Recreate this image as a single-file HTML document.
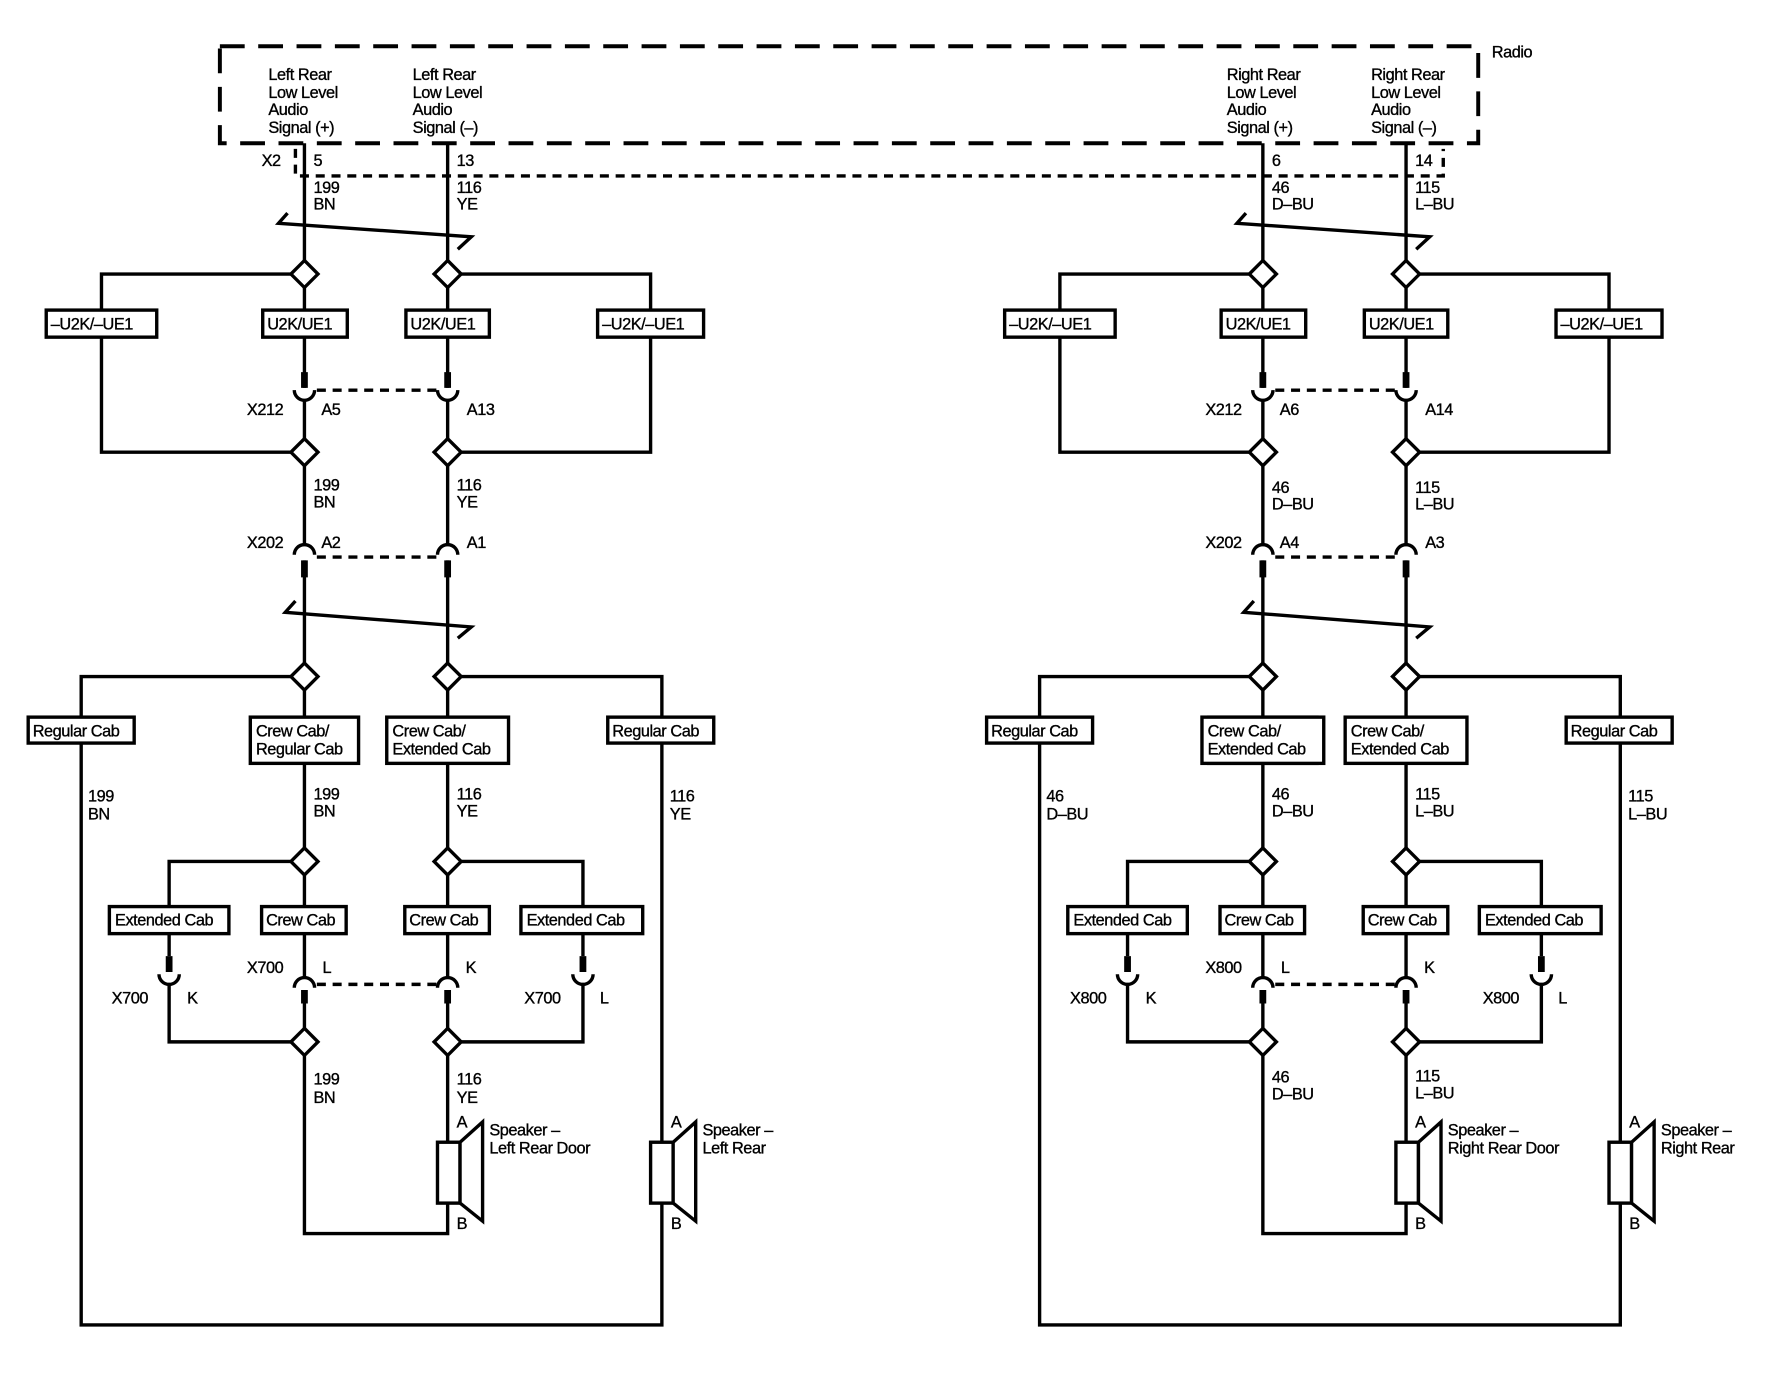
<!DOCTYPE html>
<html><head><meta charset="utf-8"><style>
html,body{margin:0;padding:0;background:#fff;}
svg{display:block;}
text{font-family:"Liberation Sans",sans-serif;font-size:14.5px;fill:#000;stroke:#000;stroke-width:0.3;letter-spacing:-0.4px;}
.w{fill:none;stroke:#000;stroke-width:3;}
.d{fill:none;stroke:#000;stroke-width:3;stroke-dasharray:8 6;}
.s{fill:none;stroke:#000;stroke-width:6;}
.b{fill:#fff;stroke:#000;stroke-width:3;}
</style></head><body>
<svg width="1768" height="1392" viewBox="0 0 1568 1234.5" xmlns="http://www.w3.org/2000/svg">
<rect x="195" y="41" width="1116" height="86" fill="none" stroke="#000" stroke-width="3.5" stroke-dasharray="22 12"/>
<text x="1323" y="51">Radio</text>
<path class="d" d="M262,132 V156 H1280 V132"/>
<text x="238" y="71">Left Rear</text><text x="238" y="87">Low Level</text><text x="238" y="102">Audio</text><text x="238" y="118">Signal (+)</text>
<text x="366" y="71">Left Rear</text><text x="366" y="87">Low Level</text><text x="366" y="102">Audio</text><text x="366" y="118">Signal (–)</text>
<text x="1088" y="71">Right Rear</text><text x="1088" y="87">Low Level</text><text x="1088" y="102">Audio</text><text x="1088" y="118">Signal (+)</text>
<text x="1216" y="71">Right Rear</text><text x="1216" y="87">Low Level</text><text x="1216" y="102">Audio</text><text x="1216" y="118">Signal (–)</text>
<text x="232" y="147">X2</text>

<g id="L">
<path class="w" d="M270,127 V231 M270,255 V275 M270,299 V344 M270,355 V389 M270,413 V483 M270,497 V588 M270,612 V636 M270,677 V752 M270,776 V804 M270,828 V867 M270,878 V912 M270,936 V1094 H397 V1067 M397,1013 V936 M397,912 V878 M397,867 V828 M397,804 V776 M397,752 V677 M397,636 V612 M397,588 V497 M397,483 V413 M397,389 V355 M397,344 V299 M397,275 V255 M397,231 V127"/>
<path class="s" d="M270,330 V344 M397,330 V344 M270,497 V512 M397,497 V512 M270,878 V890 M397,878 V890 M150,848 V862 M517,848 V862"/>
<path class="w" d="M261,346 A9,9 0 0 0 279,346 M388,346 A9,9 0 0 0 406,346 M261,492 A9,9 0 0 1 279,492 M388,492 A9,9 0 0 1 406,492 M261,876 A9,9 0 0 1 279,876 M388,876 A9,9 0 0 1 406,876 M141,864 A9,9 0 0 0 159,864 M508,864 A9,9 0 0 0 526,864"/>
<path class="d" d="M281,346 H388 M281,494 H388 M281,873 H388"/>
<path class="w" d="M258,243 H90 V401 H258 M409,243 H577 V401 H409"/>
<path class="w" d="M258,600 H72 V1175 H587 V1067 M587,1013 V600 H409"/>
<path class="w" d="M258,764 H150 V804 M150,828 V848 M150,873 V924 H258 M409,764 H517 V804 M517,828 V848 M517,873 V924 H409"/>
<path class="w" d="M255,189 L247,198 L418,210 L406,221"/>
<path class="w" d="M262,533 L253,543 L418,556 L406,566"/>
<g class="b">
<polygon points="270,231 282,243 270,255 258,243"/><polygon points="397,231 409,243 397,255 385,243"/>
<polygon points="270,389 282,401 270,413 258,401"/><polygon points="397,389 409,401 397,413 385,401"/>
<polygon points="270,588 282,600 270,612 258,600"/><polygon points="397,588 409,600 397,612 385,600"/>
<polygon points="270,752 282,764 270,776 258,764"/><polygon points="397,752 409,764 397,776 385,764"/>
<polygon points="270,912 282,924 270,936 258,924"/><polygon points="397,912 409,924 397,936 385,924"/>
<rect x="41" y="275" width="98" height="24"/><rect x="233" y="275" width="75" height="24"/><rect x="360" y="275" width="74" height="24"/><rect x="530" y="275" width="94" height="24"/>
<rect x="25" y="636" width="94" height="23"/><rect x="222" y="636" width="96" height="41"/><rect x="343" y="636" width="108" height="41"/><rect x="539" y="636" width="94" height="23"/>
<rect x="97" y="804" width="106" height="24"/><rect x="232" y="804" width="75" height="24"/><rect x="359" y="804" width="75" height="24"/><rect x="462" y="804" width="108" height="24"/>
<rect x="388" y="1013" width="20" height="54"/><polygon points="408,1013 428,995 428,1083 408,1067"/>
<rect x="577" y="1013" width="20" height="54"/><polygon points="597,1013 617,995 617,1083 597,1067"/>
</g>
<text x="45" y="292">–U2K/–UE1</text><text x="237" y="292">U2K/UE1</text><text x="364" y="292">U2K/UE1</text><text x="534" y="292">–U2K/–UE1</text>
<text x="29" y="653">Regular Cab</text><text x="227" y="653">Crew Cab/</text><text x="227" y="669">Regular Cab</text><text x="348" y="653">Crew Cab/</text><text x="348" y="669">Extended Cab</text><text x="543" y="653">Regular Cab</text>
<text x="102" y="821">Extended Cab</text><text x="236" y="821">Crew Cab</text><text x="363" y="821">Crew Cab</text><text x="467" y="821">Extended Cab</text>
</g>
<g transform="translate(850,0)">
<use href="#L"/>
</g>
<rect class="b" x="1066" y="636" width="108" height="41"/>
<text x="1071" y="653">Crew Cab/</text><text x="1071" y="669">Extended Cab</text>

<!-- left texts -->
<text x="278" y="147">5</text><text x="405" y="147">13</text>
<text x="278" y="171">199</text><text x="278" y="186">BN</text><text x="405" y="171">116</text><text x="405" y="186">YE</text>
<text x="219" y="368">X212</text><text x="285" y="368">A5</text><text x="414" y="368">A13</text>
<text x="278" y="435">199</text><text x="278" y="450">BN</text><text x="405" y="435">116</text><text x="405" y="450">YE</text>
<text x="219" y="486">X202</text><text x="285" y="486">A2</text><text x="414" y="486">A1</text>
<text x="78" y="711">199</text><text x="78" y="727">BN</text><text x="278" y="709">199</text><text x="278" y="724">BN</text>
<text x="405" y="709">116</text><text x="405" y="724">YE</text><text x="594" y="711">116</text><text x="594" y="727">YE</text>
<text x="99" y="890">X700</text><text x="166" y="890">K</text><text x="219" y="863">X700</text><text x="286" y="863">L</text><text x="413" y="863">K</text><text x="465" y="890">X700</text><text x="532" y="890">L</text>
<text x="278" y="962">199</text><text x="278" y="978">BN</text><text x="405" y="962">116</text><text x="405" y="978">YE</text>
<text x="405" y="1000">A</text><text x="405" y="1090">B</text><text x="434" y="1007">Speaker –</text><text x="434" y="1023">Left Rear Door</text>
<text x="595" y="1000">A</text><text x="595" y="1090">B</text><text x="623" y="1007">Speaker –</text><text x="623" y="1023">Left Rear</text>

<!-- right texts -->
<text x="1128" y="147">6</text><text x="1255" y="147">14</text>
<text x="1128" y="171">46</text><text x="1128" y="186">D–BU</text><text x="1255" y="171">115</text><text x="1255" y="186">L–BU</text>
<text x="1069" y="368">X212</text><text x="1135" y="368">A6</text><text x="1264" y="368">A14</text>
<text x="1128" y="437">46</text><text x="1128" y="452">D–BU</text><text x="1255" y="437">115</text><text x="1255" y="452">L–BU</text>
<text x="1069" y="486">X202</text><text x="1135" y="486">A4</text><text x="1264" y="486">A3</text>
<text x="928" y="711">46</text><text x="928" y="727">D–BU</text><text x="1128" y="709">46</text><text x="1128" y="724">D–BU</text>
<text x="1255" y="709">115</text><text x="1255" y="724">L–BU</text><text x="1444" y="711">115</text><text x="1444" y="727">L–BU</text>
<text x="949" y="890">X800</text><text x="1016" y="890">K</text><text x="1069" y="863">X800</text><text x="1136" y="863">L</text><text x="1263" y="863">K</text><text x="1315" y="890">X800</text><text x="1382" y="890">L</text>
<text x="1128" y="960">46</text><text x="1128" y="975">D–BU</text><text x="1255" y="959">115</text><text x="1255" y="974">L–BU</text>
<text x="1255" y="1000">A</text><text x="1255" y="1090">B</text><text x="1284" y="1007">Speaker –</text><text x="1284" y="1023">Right Rear Door</text>
<text x="1445" y="1000">A</text><text x="1445" y="1090">B</text><text x="1473" y="1007">Speaker –</text><text x="1473" y="1023">Right Rear</text>
</svg>
</body></html>
